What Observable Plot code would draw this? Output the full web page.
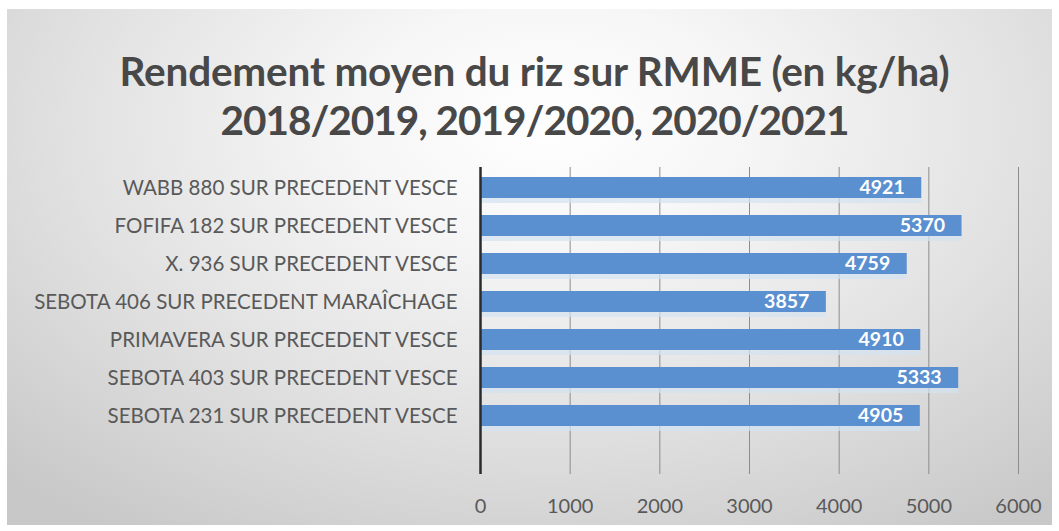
<!DOCTYPE html>
<html>
<head>
<meta charset="utf-8">
<script src="https://cdn.jsdelivr.net/npm/d3@7"></script>
<script src="https://cdn.jsdelivr.net/npm/@observablehq/plot@0.6"></script>
<style>
  html, body { margin: 0; padding: 0; background: #ffffff; width: 1059px; height: 531px; overflow: hidden; }
  #frame {
    position: absolute; left: 7px; top: 9px; width: 1045px; height: 516px;
    background: radial-gradient(ellipse 75% 95% at 52% 22%, #ffffff 0%, #f6f6f6 25%, #e2e2e2 60%, #c8c8c8 100%);
  }
  #title {
    position: absolute; left: 5px; top: 46px; width: 1059px; text-align: center;
    font-family: Lato, "Open Sans", sans-serif; font-weight: 700; font-size: 40.5px;
    line-height: 49px; color: #484848; letter-spacing: -0.2px;
  }
  #title .l2 { letter-spacing: -1px; }
  #chart { position: absolute; left: 0; top: 0; }
</style>
</head>
<body>
<div id="frame"></div>
<div id="title">Rendement moyen du riz sur RMME (en kg/ha)<br><span class="l2">2018/2019, 2019/2020, 2020/2021</span></div>
<div id="chart"></div>
<script>
const categories = [
  "WABB 880 SUR PRECEDENT VESCE",
  "FOFIFA 182 SUR PRECEDENT VESCE",
  "X. 936 SUR PRECEDENT VESCE",
  "SEBOTA 406 SUR PRECEDENT MARAÎCHAGE",
  "PRIMAVERA SUR PRECEDENT VESCE",
  "SEBOTA 403 SUR PRECEDENT VESCE",
  "SEBOTA 231 SUR PRECEDENT VESCE"
];
const values = [4921, 5370, 4759, 3857, 4910, 5333, 4905];
const xTicks = [0, 1000, 2000, 3000, 4000, 5000, 6000];

const data = categories.map((c, i) => ({category: c, value: values[i]}));

const chart = Plot.plot({
  width: 1059,
  height: 531,
  marginLeft: 480,
  marginRight: 41,
  marginTop: 167,
  marginBottom: 57,
  style: {background: "transparent", fontFamily: "Lato, 'Open Sans', sans-serif"},
  x: {domain: [0, 6000], ticks: xTicks, label: null},
  y: {domain: categories, paddingInner: 0.453, paddingOuter: 0.2265, insetBottom: 38.4, label: null},
  marks: [
    Plot.ruleX(xTicks.filter(d => d > 0), {stroke: "#8c8c8c", strokeWidth: 1}),
    Plot.barX(data, {y: "category", x: "value", fill: "#d4e3f2", dy: 5, opacity: 0.7}),
    Plot.barX(data, {y: "category", x: "value", fill: "#5a8fd0"}),
    Plot.text(data, {y: "category", x: "value", text: d => String(d.value), textAnchor: "end", dx: -17, fill: "#ffffff", fontSize: 19.5, fontWeight: 700}),
    Plot.ruleX([0], {stroke: "#2b2b2b", strokeWidth: 2.5}),
    Plot.axisX({ticks: xTicks, tickSize: 0, tickPadding: 24, fontSize: 20, color: "#595959", label: null, tickFormat: d => String(d)}),
    Plot.axisY({tickSize: 0, tickPadding: 23, fontSize: 20.5, color: "#595959", label: null})
  ]
});
document.getElementById("chart").appendChild(chart);
</script>
</body>
</html>
